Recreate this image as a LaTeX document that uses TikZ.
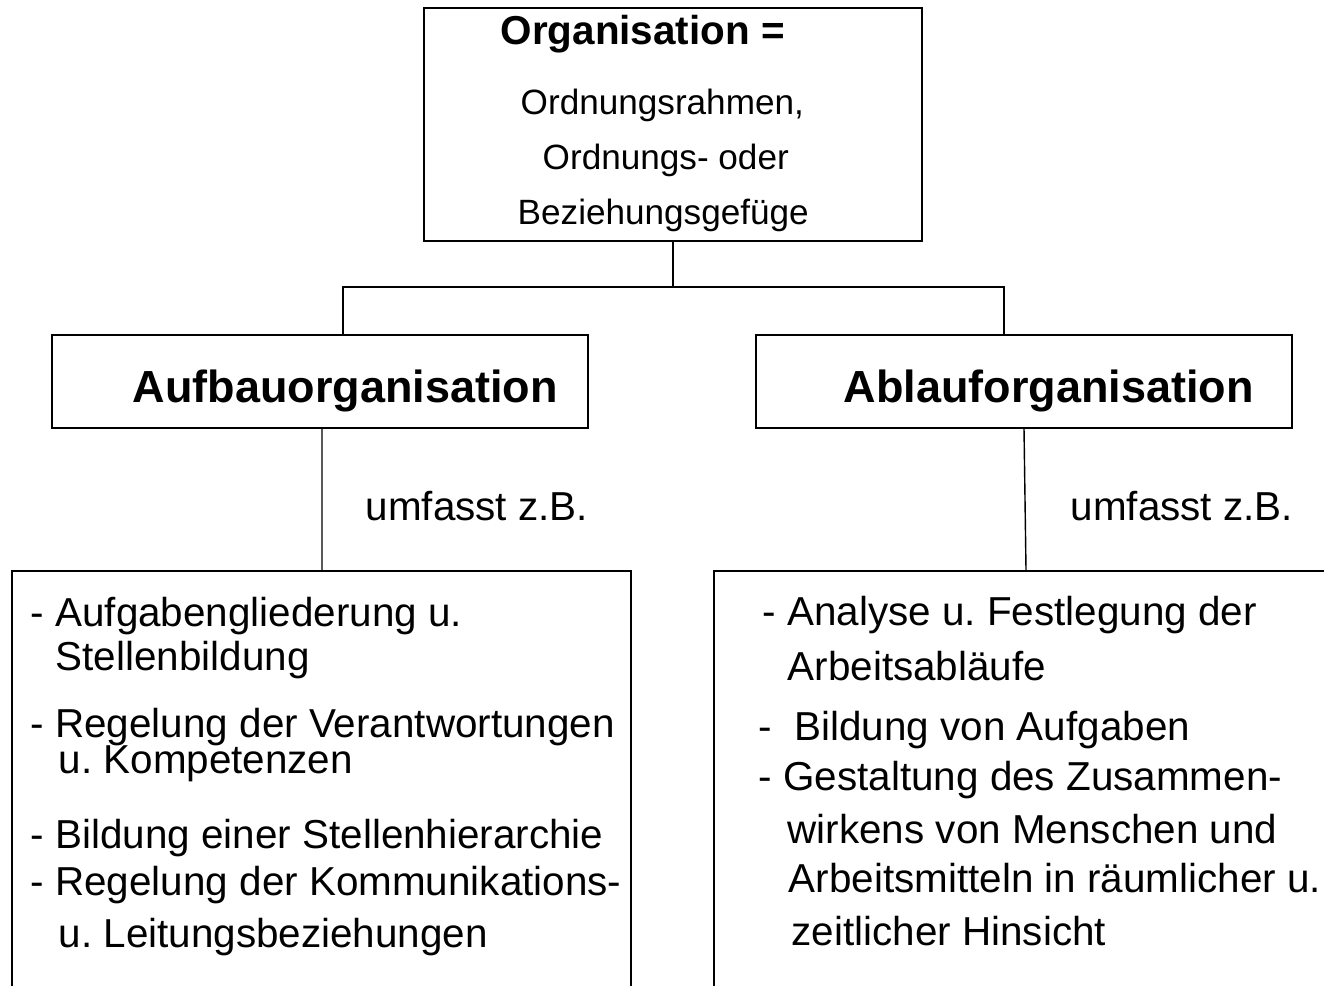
\documentclass[tikz,border=0pt]{standalone}
\usepackage{fontspec}
\setmainfont{Liberation Sans}
\usepackage{tikz}
\frenchspacing

\begin{document}
\begin{tikzpicture}[x=.02cm,y=-.02cm,line width=.8pt,
  box/.style={draw,inner sep=0pt},
  txt/.style={anchor=base west,inner sep=0pt,font=\fontsize{23}{28}\selectfont},
  sub/.style={anchor=base west,inner sep=0pt,font=\fontsize{20}{24}\selectfont},
  head/.style={anchor=base west,inner sep=0pt,font=\fontsize{25.6}{30}\selectfont\bfseries}]
\clip (0,0) rectangle (1324,986);
\node[box,minimum width=9.96cm,minimum height=4.66cm] (org) at (673,124.5) {};
\node[box,minimum width=10.72cm,minimum height=1.86cm] (aufbau) at (320,381.5) {};
\node[box,minimum width=10.72cm,minimum height=1.86cm] (ablauf) at (1024,381.5) {};
\node[box,minimum width=12.38cm,minimum height=10.58cm] (aufbauL) at (321.5,835.5) {};
\node[box,minimum width=13.72cm,minimum height=10.58cm] (ablaufL) at (1057,835.5) {};
\draw (org.south) -- (673,287) coordinate (fork);
\draw ([xshift=.46cm]aufbau.north) |- (fork) -| ([xshift=-.4cm]ablauf.north);
\draw ([xshift=.04cm]aufbau.south) -- ([xshift=.01cm]aufbauL.north);
\draw (ablauf.south) -- ([xshift=-.62cm]ablaufL.north);
\node[txt,font=\fontsize{23}{28}\selectfont\bfseries] (t1) at (500,45) {Organisation =};
\node[sub] (t2) at (520,115) {Ordnungsrahmen,};
\node[sub] (t3) at (542,170) {Ordnungs- oder};
\node[sub] (t4) at (517,225) {Beziehungsgefüge};
\node[head] (h1) at (132,402) {Aufbauorganisation};
\node[head] (h2) at (843,402) {Ablauforganisation};
\node[txt] (u1) at (365,520) {umfasst z.B.};
\node[txt] (u2) at (1070,520) {umfasst z.B.};
% Aufbauorganisation
\node[txt] (a1) at (30,626) {- Aufgabengliederung u.};
\node[txt] (a2) at (55,670) {Stellenbildung};
\node[txt] (a3) at (30,737) {- Regelung der Verantwortungen};
\node[txt] (a4) at (58,773) {u. Kompetenzen};
\node[txt] (a5) at (30,848) {- Bildung einer Stellenhierarchie};
\node[txt] (a6) at (30,895) {- Regelung der Kommunikations-};
\node[txt] (a7) at (58,947) {u. Leitungsbeziehungen};
% Ablauforganisation
\node[txt] (b1) at (762,625) {- Analyse u. Festlegung der};
\node[txt] (b2) at (787,680) {Arbeitsabläufe};
\node[txt] (b3) at (758,740) {- \ Bildung von Aufgaben};
\node[txt] (b4) at (758,790) {- Gestaltung des Zusammen-};
\node[txt] (b5) at (787,843) {wirkens von Menschen und};
\node[txt] (b6) at (788,892) {Arbeitsmitteln in räumlicher u.};
\node[txt] (b7) at (791,945) {zeitlicher Hinsicht};
\end{tikzpicture}
\end{document}
